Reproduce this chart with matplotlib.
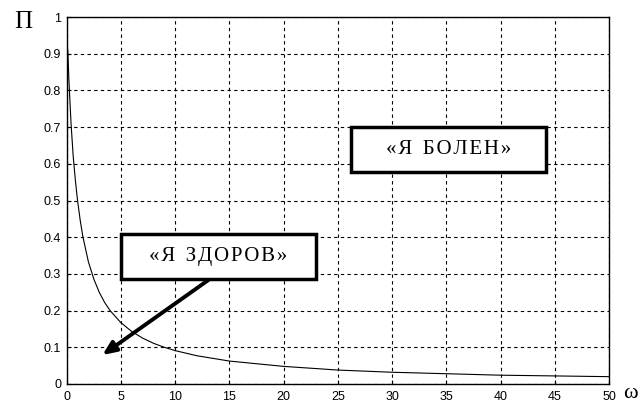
import matplotlib.pyplot as plt
import matplotlib.patches as mpatches

# values
omega = [0.0, 0.1, 0.2, 0.3, 0.4, 0.6, 0.8, 1.0, 1.25, 1.5, 2.0, 2.5, 3.0, 3.5,
         4.0, 5.0, 6.0, 7.0, 8.0, 9.0, 10, 12, 15, 20, 25, 30, 35, 40, 45, 50]
p = [0.91, 0.91, 0.83, 0.77, 0.71, 0.62, 0.555, 0.50, 0.445, 0.40, 0.333, 0.286,
     0.25, 0.222, 0.20, 0.167, 0.143, 0.125, 0.111, 0.10, 0.091, 0.077, 0.0625,
     0.048, 0.038, 0.032, 0.028, 0.024, 0.022, 0.020]

xticks = list(range(0, 55, 5))
yticks = [0, 0.1, 0.2, 0.3, 0.4, 0.5, 0.6, 0.7, 0.8, 0.9, 1]
ytick_labels = ["0", "0.1", "0.2", "0.3", "0.4", "0.5", "0.6", "0.7", "0.8", "0.9", "1"]

ill_box = (26.2, 0.578, 44.2, 0.701)      # x0, y0, x1, y1
well_box = (4.98, 0.287, 23.0, 0.409)
arrow_from = (13.05, 0.283)
arrow_to = (3.3, 0.079)


def spaced(s):
    # wide letter spacing like the reference
    words = s.split(" ")
    return "  ".join("\u200a".join(w) for w in words)


fig = plt.figure(figsize=(6.42, 4.03), dpi=100)
ax = fig.add_axes([66.7 / 642, 1 - 384 / 403, (609 - 66.7) / 642, (384 - 17) / 403])

ax.plot(omega, p, color="k", lw=0.8)
ax.set(xlim=(0, 50), ylim=(0, 1))
ax.set_xticks(xticks)
ax.set_yticks(yticks)
ax.set_yticklabels(ytick_labels)
ax.tick_params(direction="in", length=3, labelsize=9, colors="k")
ax.tick_params(axis="x", pad=5)
ax.tick_params(axis="y", pad=4)
for lbl in ax.get_xticklabels() + ax.get_yticklabels():
    lbl.set_family("Liberation Sans")
ax.grid(True, color="k", ls=(0, (3, 3)), lw=0.8)
for sp in ax.spines.values():
    sp.set_linewidth(1.0)

for (x0, y0, x1, y1), txt in [(ill_box, "«Я БОЛЕН»"), (well_box, "«Я ЗДОРОВ»")]:
    ax.add_patch(mpatches.Rectangle((x0, y0), x1 - x0, y1 - y0, facecolor="white",
                                    edgecolor="k", lw=2.5, zorder=4))
    ax.text((x0 + x1) / 2, (y0 + y1) / 2, spaced(txt), ha="center", va="center",
            family=["Liberation Serif", "DejaVu Serif"], fontsize=15, zorder=5)

ax.annotate("", xy=arrow_to, xytext=arrow_from, zorder=6,
            arrowprops=dict(arrowstyle="-|>,head_length=0.8,head_width=0.35",
                            color="k", lw=2.8, shrinkA=0, shrinkB=0))

fig.text(23 / 642, 1 - 22 / 403, "П", family="Liberation Serif", fontsize=18,
         ha="center", va="center")
fig.text(630 / 642, 1 - 393 / 403, "ω", family="Liberation Serif", fontsize=16,
         ha="center", va="center")

fig.savefig("out.png", dpi=100)
